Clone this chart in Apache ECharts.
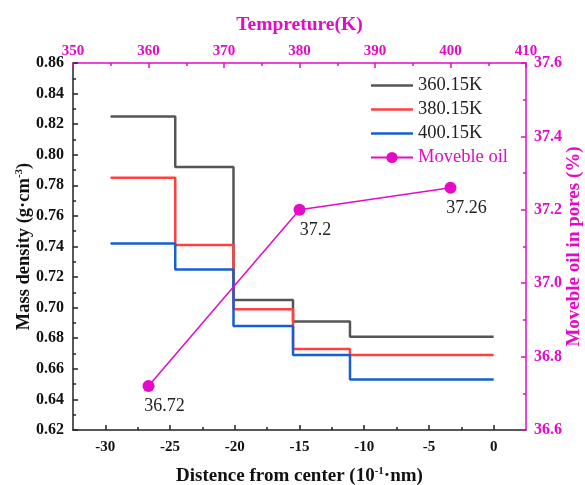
<!DOCTYPE html>
<html>
<head>
<meta charset="utf-8">
<script src="https://cdn.jsdelivr.net/npm/echarts@6/dist/echarts.min.js"></script>
<style>html,body{margin:0;padding:0;background:#fff}#c{width:585px;height:485px}</style>
</head>
<body>
<div id="c"></div>
<script>
// Step boundaries (distance from center, 10^-1 nm)
const stepX = [-29.6, -24.6, -20.1, -15.5, -11.1, 0];
// Mass density per layer (g/cm3); last value repeated to close the final step
const density360 = [0.825, 0.792, 0.705, 0.691, 0.681, 0.681];
const density380 = [0.785, 0.741, 0.699, 0.673, 0.669, 0.669];
const density400 = [0.742, 0.725, 0.688, 0.669, 0.653, 0.653];
// Moveble oil vs temperature
const oilTemp = [360, 380, 400];
const oilPct = [36.72, 37.2, 37.26];
// Tick labels
const bottomMajor = [-30, -25, -20, -15, -10, -5, 0];
const bottomMinor = [-27.5, -22.5, -17.5, -12.5, -7.5, -2.5];

const MAG = '#e60ac8';
const FONT = "'Liberation Serif','Times New Roman',serif";
const LINE_ICON = 'path://M0,0H42V2.5H0Z';

const pair = (xs, ys) => xs.map((x, i) => [x, ys[i]]);

const chart = echarts.init(document.getElementById('c'), null, {renderer: 'canvas'});
const tickInside = (len) => ({show: true, inside: true, length: len, lineStyle: {width: 1.5}});

chart.setOption({
  animation: false,
  backgroundColor: '#fff',
  grid: {left: 73, right: 59, top: 63, bottom: 55, containLabel: false, outerBoundsMode: 'none'},
  legend: {
    left: 370, top: 76, padding: 0, orient: 'vertical', itemWidth: 42, itemHeight: 14, itemGap: 5,
    symbolKeepAspect: true,
    textStyle: {fontFamily: FONT, fontSize: 18.5, color: '#222'},
    data: [
      {name: '360.15K', icon: LINE_ICON}, {name: '380.15K', icon: LINE_ICON}, {name: '400.15K', icon: LINE_ICON},
      {name: 'Moveble oil', textStyle: {color: MAG}}
    ]
  },
  xAxis: [
    {
      type: 'value', position: 'bottom', min: -32.5, max: 2.5,
      name: 'Distence from center (10{sup|-1}·nm)', nameLocation: 'middle', nameGap: 36,
      nameTextStyle: {fontFamily: FONT, fontSize: 19, fontWeight: 'bold', color: '#111',
        rich: {sup: {fontFamily: FONT, fontSize: 11, fontWeight: 'bold', color: '#111', padding: [0, 0, 9, 0]}}},
      axisLine: {show: true, onZero: false, lineStyle: {color: '#222', width: 1.5}},
      axisTick: Object.assign(tickInside(5), {customValues: bottomMajor}),
      axisLabel: {customValues: bottomMajor, fontFamily: FONT, fontSize: 15, fontWeight: 'bold', color: '#111', margin: 10},
      splitLine: {show: false}
    },
    {
      type: 'value', position: 'bottom', min: -32.5, max: 2.5,
      axisLine: {show: false},
      axisTick: Object.assign(tickInside(3), {customValues: bottomMinor, lineStyle: {color: '#222', width: 1.5}}),
      axisLabel: {show: false},
      splitLine: {show: false}
    },
    {
      type: 'value', position: 'top', min: 350, max: 410, interval: 10,
      name: 'Tempreture(K)', nameLocation: 'middle', nameGap: 28,
      nameTextStyle: {fontFamily: FONT, fontSize: 19.5, fontWeight: 'bold', color: MAG},
      axisLine: {show: true, onZero: false, lineStyle: {color: MAG, width: 1.5}},
      axisTick: tickInside(5),
      minorTick: {show: true, splitNumber: 2, length: 3, lineStyle: {color: MAG, width: 1.5}},
      axisLabel: {fontFamily: FONT, fontSize: 15, fontWeight: 'bold', color: MAG, margin: 4},
      splitLine: {show: false}
    }
  ],
  yAxis: [
    {
      type: 'value', position: 'left', min: 0.62, max: 0.86, interval: 0.02,
      name: 'Mass density (g·cm{sup|-3})', nameLocation: 'middle', nameGap: 39, nameRotate: 90,
      nameMoveOverlap: false,
      nameTextStyle: {fontFamily: FONT, fontSize: 18.5, fontWeight: 'bold', color: '#111',
        rich: {sup: {fontFamily: FONT, fontSize: 11, fontWeight: 'bold', color: '#111', padding: [0, 0, 9, 0]}}},
      axisLine: {show: true, onZero: false, lineStyle: {color: '#222', width: 1.5}},
      axisTick: tickInside(5),
      minorTick: {show: true, splitNumber: 2, length: 3, lineStyle: {color: '#222', width: 1.5}},
      axisLabel: {fontFamily: FONT, fontSize: 16, fontWeight: 'bold', color: '#111', margin: 9,
        formatter: v => v.toFixed(2)},
      splitLine: {show: false}
    },
    {
      type: 'value', position: 'right', min: 36.6, max: 37.6, interval: 0.2,
      name: 'Moveble oil in pores (%)', nameLocation: 'middle', nameGap: 39, nameRotate: 90,
      nameMoveOverlap: false,
      nameTextStyle: {fontFamily: FONT, fontSize: 19, fontWeight: 'bold', color: MAG},
      axisLine: {show: true, onZero: false, lineStyle: {color: MAG, width: 1.5}},
      axisTick: tickInside(5),
      minorTick: {show: true, splitNumber: 2, length: 3, lineStyle: {color: MAG, width: 1.5}},
      axisLabel: {fontFamily: FONT, fontSize: 16, fontWeight: 'bold', color: MAG, margin: 8,
        formatter: v => v.toFixed(1)},
      splitLine: {show: false}
    }
  ],
  series: [
    {name: '360.15K', type: 'line', step: 'end', xAxisIndex: 0, yAxisIndex: 0, symbol: 'none',
      lineStyle: {color: '#555555', width: 2.5}, itemStyle: {color: '#555555'}, data: pair(stepX, density360)},
    {name: '380.15K', type: 'line', step: 'end', xAxisIndex: 0, yAxisIndex: 0, symbol: 'none',
      lineStyle: {color: '#ff4040', width: 2.5}, itemStyle: {color: '#ff4040'}, data: pair(stepX, density380)},
    {name: '400.15K', type: 'line', step: 'end', xAxisIndex: 0, yAxisIndex: 0, symbol: 'none',
      lineStyle: {color: '#1560d0', width: 2.5}, itemStyle: {color: '#1560d0'}, data: pair(stepX, density400)},
    {name: 'Moveble oil', type: 'line', xAxisIndex: 2, yAxisIndex: 1, symbol: 'circle', symbolSize: 12,
      lineStyle: {color: MAG, width: 1.5}, itemStyle: {color: MAG}, z: 5,
      label: {show: true, position: 'bottom', offset: [16, 0], fontFamily: FONT, fontSize: 18, color: '#222',
        formatter: p => String(p.value[1])},
      data: pair(oilTemp, oilPct)}
  ]
});
</script>
</body>
</html>
